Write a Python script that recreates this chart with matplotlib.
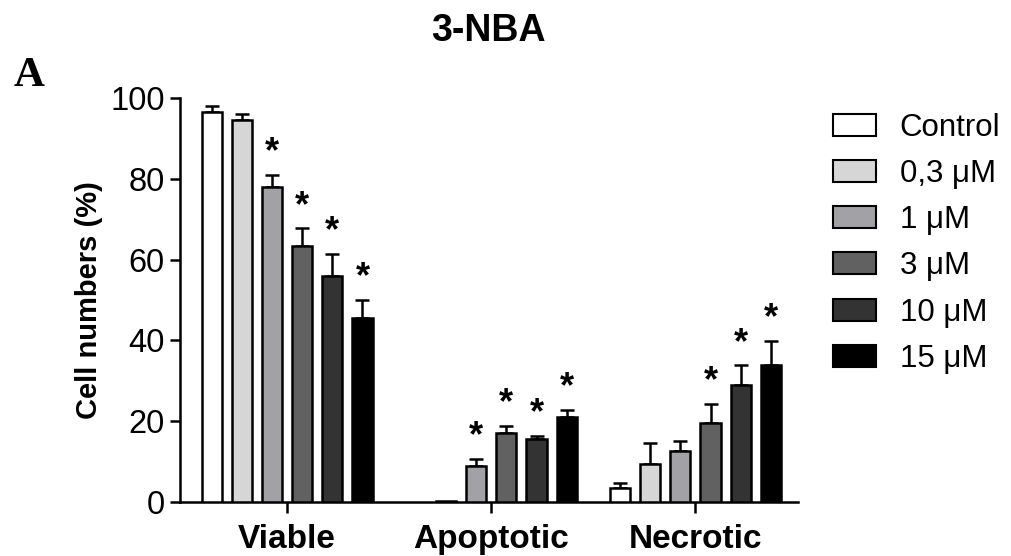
import matplotlib
matplotlib.use("Agg")
import matplotlib.pyplot as plt
import numpy as np
from matplotlib.patches import Patch

groups = ["Viable", "Apoptotic", "Necrotic"]
series = ["Control", "0,3 \u03bcM", "1 \u03bcM", "3 \u03bcM", "10 \u03bcM", "15 \u03bcM"]
colors = ["#ffffff", "#d6d6d6", "#a2a2a6", "#616161", "#333333", "#000000"]

# values per series: [Viable, Apoptotic, Necrotic]
control = [96.6, 0.0, 3.5]
c03 = [94.6, 0.2, 9.4]
c1 = [77.9, 8.9, 12.7]
c3 = [63.4, 17.1, 19.6]
c10 = [55.9, 15.5, 28.9]
c15 = [45.6, 21.0, 33.8]

err_control = [1.5, 0.0, 1.3]
err_03 = [1.4, 0.0, 5.1]
err_1 = [3.0, 1.8, 2.5]
err_3 = [4.3, 1.8, 4.6]
err_10 = [5.4, 0.8, 4.9]
err_15 = [4.4, 1.8, 6.0]

# significance markers (per series, per group)
sig_control = [False, False, False]
sig_03 = [False, False, False]
sig_1 = [True, True, False]
sig_3 = [True, True, True]
sig_10 = [True, True, True]
sig_15 = [True, True, True]

values = [control, c03, c1, c3, c10, c15]
errors = [err_control, err_03, err_1, err_3, err_10, err_15]
sigs = [sig_control, sig_03, sig_1, sig_3, sig_10, sig_15]

plt.rcParams['font.family'] = ['Liberation Sans', 'DejaVu Sans']

fig = plt.figure(figsize=(10.11, 5.56), dpi=100)
ax = fig.add_axes([180/1011, 1-502/556, (798-180)/1011, (502-98)/556])

gap = 6.77
centers = np.arange(len(groups)) * gap
width = 0.667
for i, (vals, errs, sg) in enumerate(zip(values, errors, sigs)):
    x = centers + (i - 2.5)
    for xi, v, e, s in zip(x, vals, errs, sg):
        if v > 0:
            ax.bar(xi, v, width=width, color=colors[i], edgecolor="black", linewidth=1.8, zorder=3)
        if e > 0:
            ax.errorbar(xi, v, yerr=[[0], [e]], fmt="none", ecolor="black",
                        elinewidth=1.8, capsize=5, capthick=1.8, zorder=2)
        if s:
            ax.text(xi, v + e + 5.5, "*", ha="center", va="center", fontsize=26,
                    fontweight="bold", zorder=4)

ax.set_xlim(-3.55, centers[-1] + 3.4)
ax.set_ylim(0, 100)
ax.set_yticks([0, 20, 40, 60, 80, 100])
ax.set_xticks(centers)
ax.set_xticklabels(groups, fontsize=24, fontweight="bold")
ax.tick_params(axis="y", labelsize=23.5, width=1.8, length=7, direction="out", pad=4)
ax.tick_params(axis="x", width=1.8, length=8, direction="out", pad=8)
for s in ["top", "right"]:
    ax.spines[s].set_visible(False)
for s in ["left", "bottom"]:
    ax.spines[s].set_linewidth(1.8)
ax.set_ylabel("Cell numbers (%)", fontsize=21, fontweight="bold", labelpad=5)

handles = [Patch(facecolor=c, edgecolor="black", linewidth=1.5, label=l) for c, l in zip(colors, series)]
fig.legend(handles=handles, loc="upper left", bbox_to_anchor=(820/1011, 1-100/556),
           frameon=False, fontsize=22.5, handlelength=1.4, handleheight=0.7,
           labelspacing=0.52, handletextpad=0.75, borderaxespad=0)

fig.text(488/1011, 1-31/556, "3-NBA", ha="center", va="center", fontsize=27, fontweight="bold")
fig.text(29/1011, 1-76/556, "A", ha="center", va="center", fontsize=31, fontweight="bold",
         family="Liberation Serif")

fig.savefig("out.png", dpi=100)
